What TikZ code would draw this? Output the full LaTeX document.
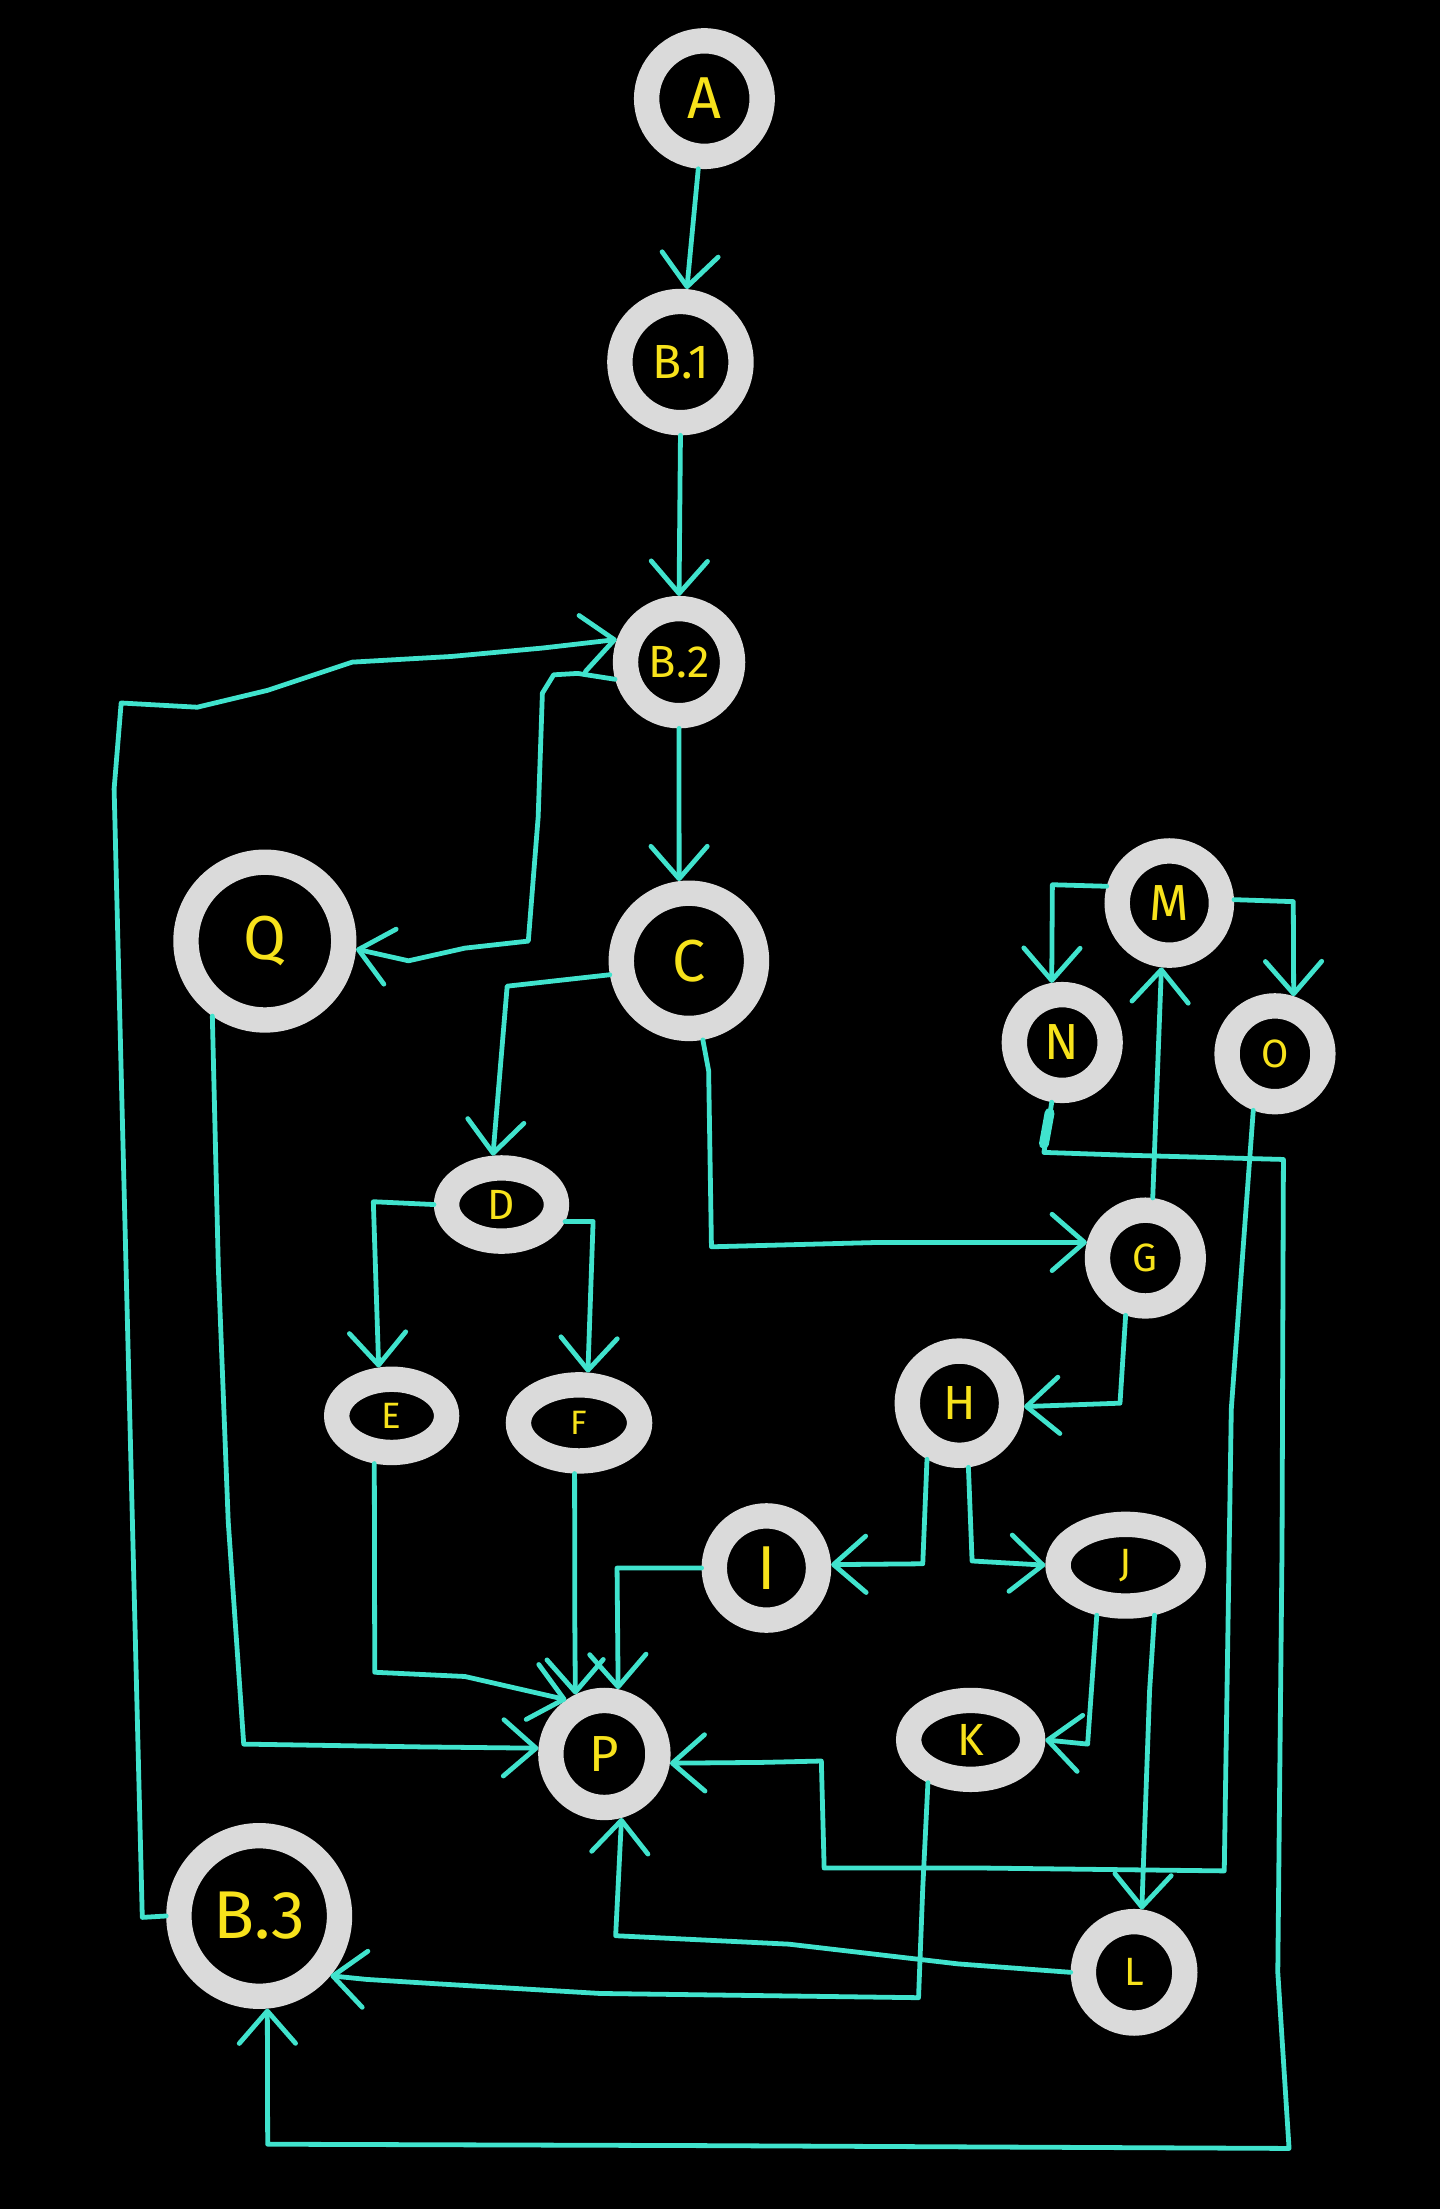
\documentclass[tikz,border=0pt]{standalone}
\usepackage{fontspec}
\setsansfont{Fira Sans}
\usetikzlibrary{arrows.meta,shapes.geometric}
\definecolor{ringgray}{HTML}{DADADA}
\definecolor{labelyellow}{HTML}{F7E21B}
\definecolor{linecyan}{HTML}{40E3CD}
\newcommand\fsz[1]{\fontsize{#1}{#1}\selectfont}
\begin{document}
\begin{tikzpicture}[x=1pt,y=-1pt,
  ring/.style={circle, draw=ringgray, line width=18pt, outer sep=9pt, inner sep=0pt,
               text=labelyellow, font=\sffamily, minimum size=#1pt},
  ell/.style 2 args={ellipse, draw=ringgray, line width=18pt, outer sep=9pt, inner sep=0pt,
               text=labelyellow, font=\sffamily, minimum width=#1pt, minimum height=#2pt},
  conn/.style={draw=linecyan, line width=3.4pt, line join=round, line cap=round,
               -{Straight Barb[length=23pt,width=40pt,round]}},
  scribble/.style={draw=linecyan, line width=7pt, line cap=round}
]
\fill[black] (0,0) rectangle (1022,1568);
\useasboundingbox (0,0) rectangle (1022,1568);

% nodes
\node[ring=82] (A) at (500,70) {\fsz{42}A};
\node[ring=86] (B1) at (483,257) {\fsz{34}B.1};
\node[ring=76] (B2) at (482,470) {\fsz{32}B.2};
\node[ring=96] (C) at (489,682) {\fsz{42}C};
\node[ring=112] (Q) at (188,668) {\fsz{44}Q};
\node[ring=74] (M) at (830,641) {\fsz{36}M};
\node[ring=68] (N) at (754,740) {\fsz{36}N};
\node[ring=68] (O) at (905,748) {\fsz{28}O};
\node[ell={78}{52}] (D) at (356,855) {\fsz{30}D};
\node[ring=68] (G) at (813,893) {\fsz{28}G};
\node[ell={78}{52}] (E) at (278,1005) {\fsz{26}E};
\node[ell={86}{54}] (F) at (411,1010) {\fsz{24}F};
\node[ring=74] (H) at (681,996) {\fsz{34}H};
\node[ring=74] (I) at (544,1113) {\fsz{44}I};
\node[ell={96}{58}] (J) at (799,1111) {\fsz{28}J};
\node[ring=76] (P) at (429,1245) {\fsz{36}P};
\node[ell={88}{56}] (K) at (689,1235) {\fsz{32}K};
\node[ring=114] (B3) at (184,1360) {\fsz{48}B.3};
\node[ring=72] (L) at (805,1400) {\fsz{28}L};

% connectors
\draw[conn] (A.265) -- (B1.85);
\draw[conn] (B1.south) -- (B2.north);
\draw[conn] (B2.south) -- (C.97);
\draw[conn] (B3.west) -- (101,1361) -- (81,560) -- (86,499) -- (140,502) -- (190,490)
   -- (250,470) -- (320,466) -- (385,460) -- (B2.160);
\draw[conn] (B2.195) -- (410,478) -- (393,479) -- (385,492) -- (382,580) -- (375,668)
   -- (330,673) -- (290,682) -- (Q.-5);
\draw[conn] (C.190) -- (360,700) -- (D.100);
\draw[conn] (C.-80) -- (503,760) -- (505,885) -- (620,882) -- (G.165);
\draw[conn] (D.west) -- (265,853) -- (E.105);
\draw[conn] (D.-15) -- (421,867) -- (F.80);
\draw[conn] (G.83) -- (M.-97);
\draw[conn] (M.165) -- (747,628) -- (N.100);
\draw[conn] (M.3) -- (918,640) -- (O.72);
\draw[conn] (N.-100) -- (741,818) -- (800,820) -- (911,823) -- (910,1100) -- (907,1400)
   -- (915,1525) -- (500,1523) -- (190,1522) -- (B3.-85);
\draw[scribble] (745,790) -- (741,812);
\draw[conn] (O.249) -- (874,1000) -- (869,1328) -- (700,1326) -- (585,1326) -- (583,1250)
   -- (540,1251) -- (P.-8);
\draw[conn] (G.251) -- (795,996) -- (H.-3);
\draw[conn] (H.240) -- (655,1110) -- (I.3);
\draw[conn] (H.-82) -- (690,1108) -- (J.west);
\draw[conn] (I.west) -- (438,1113) -- (P.78);
\draw[conn] (F.-95) -- (408,1150) -- (P.116);
\draw[conn] (E.-110) -- (266,1187) -- (330,1190) -- (P.125);
\draw[conn] (Q.235) -- (155,900) -- (162,1080) -- (173,1238) -- (300,1240) -- (P.175);
\draw[conn] (L.west) -- (680,1394) -- (560,1380) -- (437,1374) -- (P.-75);
\draw[conn] (K.225) -- (655,1340) -- (652,1418) -- (426,1415) -- (308,1408) -- (260,1405)
   -- (B3.-40);
\draw[conn] (J.240) -- (772,1238) -- (K.east);
\draw[conn] (J.-60) -- (816,1200) -- (L.83);
\end{tikzpicture}
\end{document}
